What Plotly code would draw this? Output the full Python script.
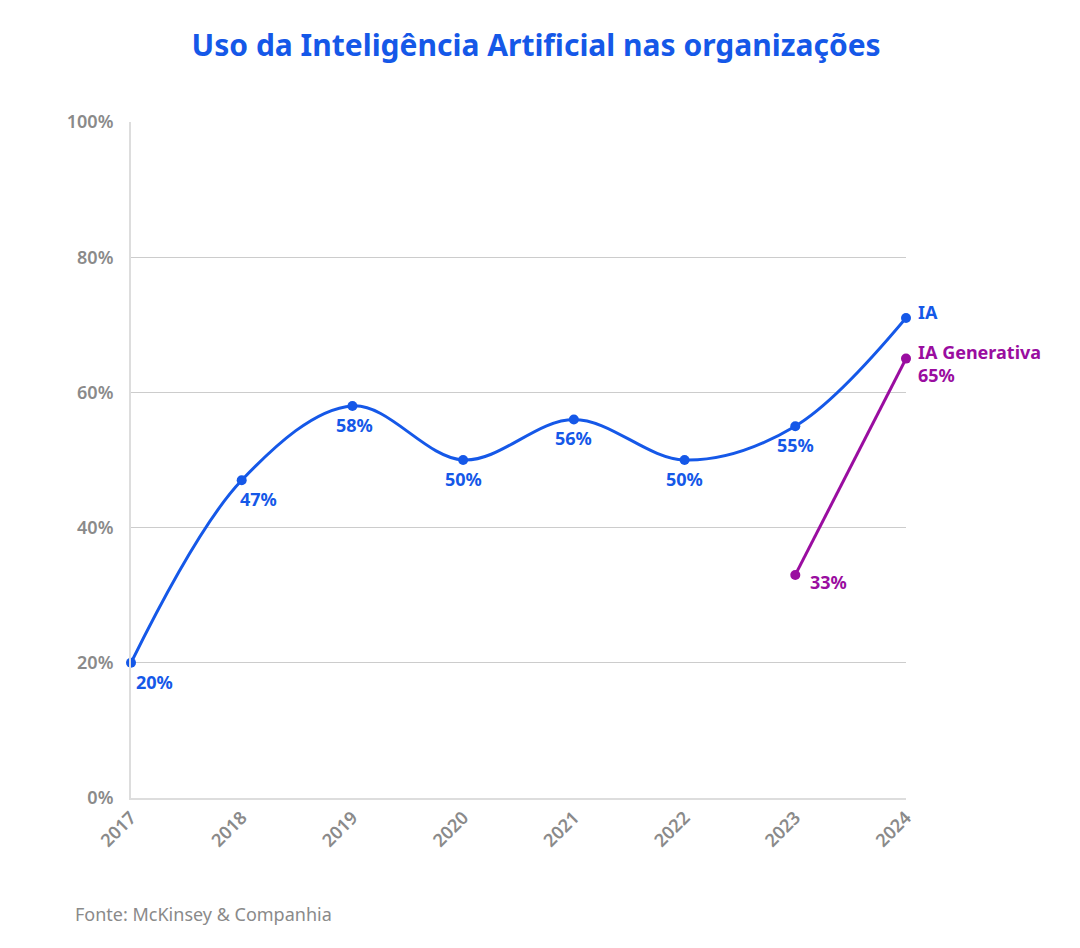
import plotly.graph_objects as go

years = [2017, 2018, 2019, 2020, 2021, 2022, 2023, 2024]
ia_values = [20, 47, 58, 50, 56, 50, 55, 71]
ia_labels = ["20%", "47%", "58%", "50%", "56%", "50%", "55%", ""]

genai_years = [2023, 2024]
genai_values = [33, 65]

y_ticks = [0, 20, 40, 60, 80, 100]
y_tick_labels = ["0%", "20%", "40%", "60%", "80%", "100%"]

# label placement (style, not data)
ia_label_anchor = ["left", "left", "center", "center", "center", "center", "center", "center"]
ia_label_xshift = [3, -4, 2, 0, 0, 0, 0, 0]

BLUE = "#1558E8"
PURPLE = "#9A0DA0"
GRAY = "#8a8a8a"
FONT = "Noto Sans"
LBL = dict(family=FONT, size=18, weight="bold")

fig = go.Figure()

fig.add_trace(go.Scatter(
    x=years, y=ia_values, mode="lines+markers",
    line=dict(color=BLUE, width=3, shape="spline", smoothing=1.0),
    marker=dict(color=BLUE, size=10),
    cliponaxis=False, showlegend=False, hoverinfo="skip",
))

fig.add_trace(go.Scatter(
    x=genai_years, y=genai_values, mode="lines+markers",
    line=dict(color=PURPLE, width=3),
    marker=dict(color=PURPLE, size=10),
    cliponaxis=False, showlegend=False, hoverinfo="skip",
))

annotations = []
for x, y, t, anc, xs in zip(years, ia_values, ia_labels, ia_label_anchor, ia_label_xshift):
    if not t:
        continue
    annotations.append(dict(
        x=x, y=y, text=t, xanchor=anc, yanchor="top", xshift=xs, yshift=-5,
        showarrow=False, font=dict(**LBL, color=BLUE)))

annotations += [
    dict(x=genai_years[0], y=genai_values[0], text=f"{genai_values[0]}%",
         xanchor="left", yanchor="middle", xshift=13, yshift=-7, showarrow=False,
         font=dict(**LBL, color=PURPLE)),
    dict(x=genai_years[1], y=genai_values[1], text=f"IA Generativa<br>{genai_values[1]}%",
         xanchor="left", yanchor="middle", align="left", xshift=10, yshift=-5, showarrow=False,
         font=dict(**LBL, color=PURPLE)),
    dict(x=years[-1], y=ia_values[-1], text="IA",
         xanchor="left", yanchor="middle", xshift=10, yshift=6, showarrow=False,
         font=dict(**LBL, color=BLUE)),
    dict(x=0, y=0, xref="paper", yref="paper", text="Fonte: McKinsey & Companhia",
         xanchor="left", yanchor="middle", xshift=-58, yshift=-116, showarrow=False,
         font=dict(family=FONT, size=18, color=GRAY)),
]

fig.update_layout(
    width=1080, height=948,
    margin=dict(l=123, r=182, t=114, b=158),
    paper_bgcolor="white", plot_bgcolor="white",
    title=dict(text="<b>Uso da Inteligência Artificial nas organizações</b>",
               x=0.489, xanchor="center", y=1 - 37 / 948, yanchor="middle",
               font=dict(family=FONT, size=30, color=BLUE)),
    annotations=annotations,
    xaxis=dict(
        range=[2017, 2024], tickmode="array", tickvals=years,
        ticktext=[str(y) for y in years], tickangle=-45,
        tickfont=dict(family=FONT, size=18, color=GRAY, weight=600),
        showgrid=False, zeroline=False, showline=True, linecolor="#dddddd", linewidth=2,
        ticks="", fixedrange=True,
    ),
    yaxis=dict(
        range=[0, 100], tickmode="array", tickvals=y_ticks, ticktext=y_tick_labels,
        tickfont=dict(family=FONT, size=18, color=GRAY, weight=600),
        showgrid=True, gridcolor="#cccccc", gridwidth=1,
        zeroline=False, showline=True, linecolor="#dddddd", linewidth=2,
        ticks="outside", ticklen=12, tickcolor="rgba(0,0,0,0)", fixedrange=True,
    ),
)

fig.write_html("out.html")
